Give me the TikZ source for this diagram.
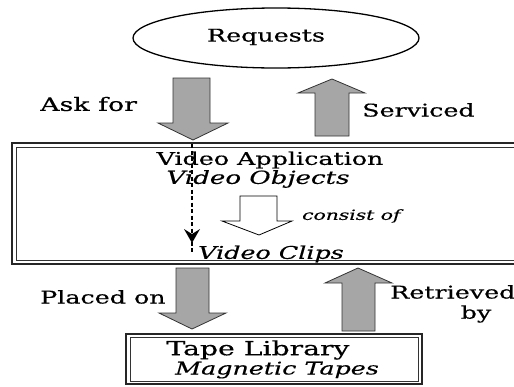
\documentclass[tikz,border=0pt]{standalone}
\usepackage{fontspec}
\setmainfont{DejaVu Serif}[FakeStretch=1.45, FakeBold=0.5]
\usetikzlibrary{shapes.geometric}
\begin{document}
\begin{tikzpicture}[x=1pt,y=-1pt,
  txt/.style={inner sep=0pt, font=\fontsize{17.5}{19}\selectfont},
  itxt/.style={inner sep=0pt, font=\fontsize{17.5}{19}\selectfont\itshape},
  small/.style={inner sep=0pt, font=\fontsize{14}{16}\selectfont\itshape},
  blk/.style={fill=black!35, draw=black!80, line width=0.8pt, line join=miter},
  hollow/.style={fill=white, draw=black, line width=0.8pt},
  outerframe/.style={draw=black!85, line width=2.6pt},
  innerframe/.style={draw=black!80, line width=0.8pt},
]
\clip (0,0) rectangle (514,386);
% Requests ellipse
\node[draw, ellipse, line width=1.3pt, minimum width=286pt, minimum height=60pt, inner sep=0pt] (req) at (276,38) {};
\node[txt] (reqt) at (266,37) {Requests};
% Big box
\draw[outerframe] (12,143) rectangle (530,264);
\draw[innerframe] (16,147) rectangle (530,260);
\node[txt] (appt) at (270,160) {Video Application};
\node[itxt, font=\fontsize{18}{19}\selectfont\itshape] (obj) at (258,179) {Video Objects};
\node[itxt] (clips) at (271,254) {Video Clips};
% Tape box
\draw[outerframe] (126,334) rectangle (422,384);
\draw[innerframe] (130,337) rectangle (418,381);
\node[txt, font=\fontsize{19.5}{20}\selectfont] (tapet) at (258,350) {Tape Library};
\node[itxt] (mag) at (277,370) {Magnetic Tapes};
% Ask for arrow
\draw[blk] (173,78) -- (210,78) -- (210,123) -- (228,123) -- (193,140) -- (158,123) -- (173,123) -- cycle;
\node[txt, anchor=west, font=\fontsize{18.5}{19}\selectfont] (ask) at (40,104) {Ask for};
% Serviced arrow
\draw[blk] (315,136) -- (315,93) -- (298,93) -- (332,79) -- (365,93) -- (349,93) -- (349,136) -- cycle;
\node[txt, anchor=west] (serv) at (362,110) {Serviced};
% dashed arrow
\coordinate (ds) at (192,144);
\coordinate (de) at (192,243);
\draw[line width=2pt, dash pattern=on 4pt off 2.5pt] (ds) -- ([yshift=-10pt]de);
\fill (184,229) -- (192,234) -- (200,229) -- (de) -- cycle;
% consist of hollow arrow
\draw[hollow] (240,196) -- (277,196) -- (277,221) -- (292,221) -- (259,235) -- (222,221) -- (240,221) -- cycle;
\node[small, anchor=west] (cons) at (302,216) {consist of};
% Placed on arrow
\draw[blk] (176,268) -- (209,268) -- (209,313) -- (226,313) -- (192,329) -- (159,313) -- (176,313) -- cycle;
\node[txt, anchor=west] (placed) at (40,297) {Placed on};
% Retrieved arrow
\draw[blk] (342,331) -- (342,283) -- (325,283) -- (358,268) -- (392,283) -- (375,283) -- (375,331) -- cycle;
\node[txt, anchor=west] (retr) at (390,292) {Retrieved};
\node[txt] (by) at (476,314) {by};
\end{tikzpicture}
\end{document}
